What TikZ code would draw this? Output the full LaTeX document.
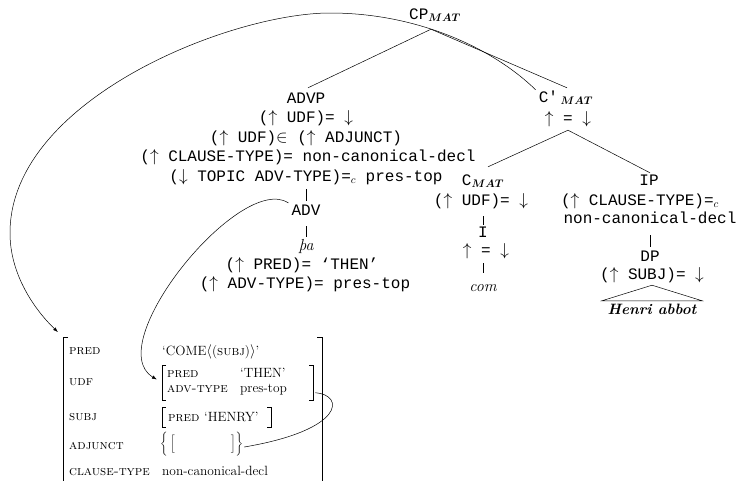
\documentclass[tikz,border=0pt]{standalone}
\usepackage{bm}
\usepackage{fontspec}
\newfontfamily\cour{Liberation Mono}
\usetikzlibrary{arrows.meta,calc}
\tikzset{
  tl/.style={font=\cour\fontsize{16}{19}\selectfont, inner sep=0pt, text height=11pt, text depth=4pt, anchor=base},
  itl/.style={font=\itshape\fontsize{16}{19}\selectfont, inner sep=0pt, text height=11pt, text depth=4pt, anchor=base},
  fl/.style={font=\fontsize{13.4}{16}\selectfont, inner sep=0pt, anchor=base west},
  fa/.style={font=\fontsize{13.4}{16}\selectfont\scshape, inner sep=0pt, anchor=base west},
  edge/.style={line width=0.5pt},
  brk/.style={line width=0.7pt},
  arr/.style={line width=0.5pt, -{Latex[length=5pt,width=3.5pt]}},
  box/.style={inner sep=0pt, anchor=north west}
}
\begin{document}
\begin{tikzpicture}[x=1pt,y=-1pt]
\useasboundingbox (0,0) rectangle (739,480);
% ---- tree ----
\node[tl] (cp) at (435,19) {CP$_{\bm{MAT}}$};
% ADVP column
\node[tl] (advp) at (306,103) {ADVP};
\node[tl] (a1) at (306,122.5) {($\uparrow$ UDF)= $\downarrow$};
\node[tl] (a2) at (306,142) {($\uparrow$ UDF)$\in$ ($\uparrow$ ADJUNCT)};
\node[tl] (a3) at (308,161.5) {($\uparrow$ CLAUSE-TYPE)= non-canonical-decl};
\node[tl] (a4) at (306,181) {($\downarrow$ TOPIC ADV-TYPE)=$_c$ pres-top};
\node[tl] (adv) at (306,215) {ADV};
\node[itl] (tha) at (306,250) {þa};
\node[tl] (a5) at (302,269) {($\uparrow$ PRED)= ‘THEN’};
\node[tl] (a6) at (305,288) {($\uparrow$ ADV-TYPE)= pres-top};
% C' column
\node[tl] (cbar) at (566,102) {C'\,$_{\bm{MAT}}$};
\node[tl] (cbar2) at (568,123) {$\uparrow$ = $\downarrow$};
% C column
\node[tl] (cmat) at (483,185) {C$_{\bm{MAT}}$};
\node[tl] (c1) at (481,205) {($\uparrow$ UDF)= $\downarrow$};
\node[tl] (ii) at (483,237) {I};
\node[tl] (i1) at (486,255) {$\uparrow$ = $\downarrow$};
\node[itl] (com) at (483,291) {com};
% IP column
\node[tl] (ip) at (649,185) {IP};
\node[tl] (p1) at (640,205) {($\uparrow$ CLAUSE-TYPE)=$_c$};
\node[tl] (p2) at (650,223) {non-canonical-decl};
\node[tl] (dp) at (650,261) {DP};
\node[tl] (p3) at (652,279) {($\uparrow$ SUBJ)= $\downarrow$};
\node[itl, font=\bfseries\itshape\fontsize{15}{18}\selectfont, text height=13pt, minimum width=100pt] (henri) at (652,314) {Henri abbot};
% tree edges
\draw[edge] ($(cp.south)+(-4,6)$) -- ($(advp.north)+(2,-4)$);
\draw[edge] ($(cp.south)+(-4,6)$) -- ($(cbar.north)+(1,-3)$);
\draw[edge] ($(cbar2.south)+(0,3)$) -- ($(cmat.north)+(5,-7)$);
\draw[edge] ($(cbar2.south)+(0,3)$) -- ($(ip.north)+(1,-1)$);
\draw[edge] ($(a4.south -| adv.north)+(0,4)$) -- ($(adv.north)+(0,-3)$);
\draw[edge] ($(adv.south)+(0,7)$) -- ($(tha.north)+(0,-2)$);
\draw[edge] ($(c1.south -| ii.north)+(0,7)$) -- ($(ii.north)+(0,-1)$);
\draw[edge] ($(i1.south -| com.north)+(0,4)$) -- ($(com.north)+(0,-7)$);
\draw[edge] ($(p2.south -| dp.north)+(0,8)$) -- ($(dp.north)+(0,-3)$);
\draw[edge] ($(p3.south -| henri.north)+(0,2)$) -- (henri.north west) -- (henri.north east) -- cycle;
% ---- f-structure ----
\node[box, minimum width=259pt, minimum height=160pt] (fs) at (63,337) {};
\draw[brk] ($(fs.north west)+(5,0)$) -- (fs.north west) -- (fs.south west);
\draw[brk] ($(fs.north east)+(-5,0)$) -- (fs.north east) -- (fs.south east);
\node[fa] (lpred) at (69,354) {pred};
\node[fa] (ludf) at (69,385) {udf};
\node[fa] (lsubj) at (69,420) {subj};
\node[fa] (ladj) at (69,449) {adjunct};
\node[fa] (lct) at (69,475) {clause-type};
\node[fl] (vpred) at (162,355) {‘COME$\langle$(\textsc{subj})$\rangle$’};
% UDF value
\node[box, minimum width=151pt, minimum height=35pt] (udf) at (162,365) {};
\draw[edge] ($(udf.north west)+(4,0)$) -- (udf.north west) -- (udf.south west) -- ++(4,0);
\draw[edge] ($(udf.north east)+(-4,0)$) -- (udf.north east) -- (udf.south east) -- ++(-4,0);
\node[fa] (upred) at (167,377) {pred};
\node[fl] (uthen) at (240,377) {‘THEN’};
\node[fa] (uadv) at (167,392) {adv-type};
\node[fl] (upres) at (240,392) {pres-top};
% SUBJ value
\node[box, minimum width=109pt, minimum height=20pt] (subj) at (162,407) {};
\draw[edge] ($(subj.north west)+(4,0)$) -- (subj.north west) -- (subj.south west) -- ++(4,0);
\draw[edge] ($(subj.north east)+(-4,0)$) -- (subj.north east) -- (subj.south east) -- ++(-4,0);
\node[fa] (spred) at (168,421) {pred};
\node[fl] (shenry) at (204,421) {‘HENRY’};
% ADJUNCT value
\node[fl, anchor=west] (adj) at (160,444) {$\left\{\vcenter{\hbox{\rule{0pt}{26pt}}}\left[\vcenter{\hbox{\rule{0pt}{19pt}}}\hspace{56pt}\right]\right\}$};
% CLAUSE-TYPE value
\node[fl] (vct) at (162,475) {non-canonical-decl};
% ---- links ----
\draw[arr, shorten >=7pt] ($(cbar.north west)+(-3,-1)$) .. controls (495,50) and (420,13) .. (330,13)
   .. controls (230,13) and (10,100) .. (10,233)
   .. controls (10,275) and (35,310) .. (fs.north west);
\draw[arr, shorten >=6pt] ($(adv.north west)+(-3,-1)$) .. controls (240,172) and (100,345) .. (udf.west);
\draw[edge] ($(udf.east)+(2,10)$) .. controls (345,395) and (345,430) .. ($(adj.east)+(1,3)$);
\end{tikzpicture}
\end{document}
